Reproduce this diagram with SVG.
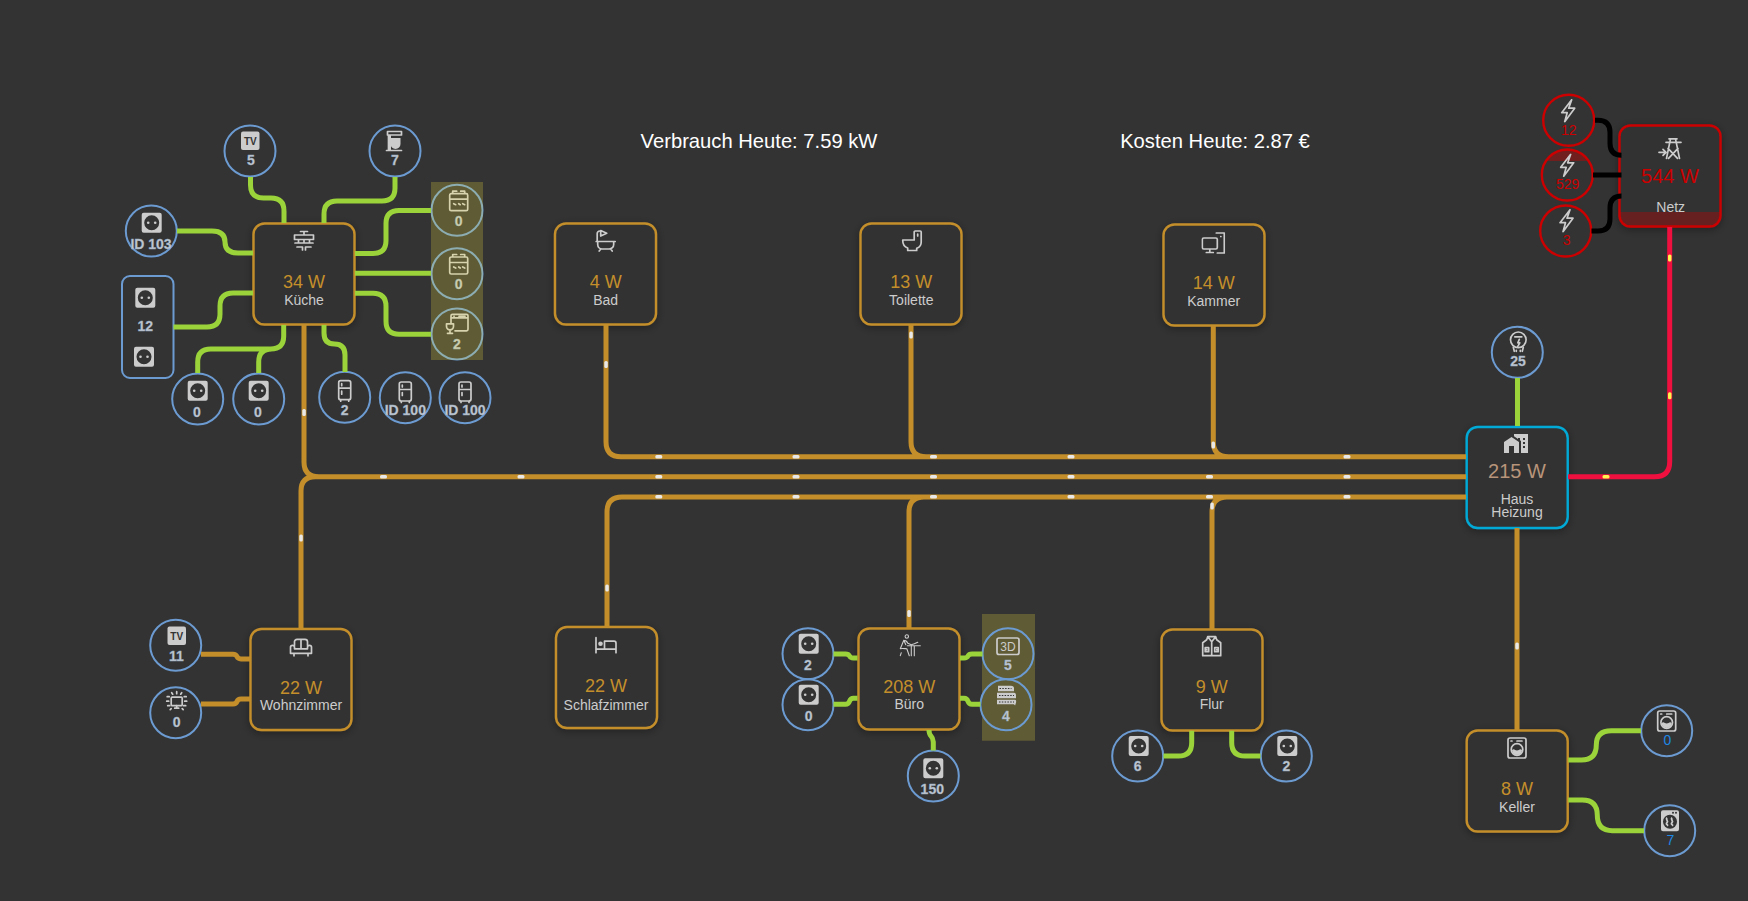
<svg xmlns="http://www.w3.org/2000/svg" width="1748" height="901" viewBox="0 0 1748 901">
<style>
text{font-family:"Liberation Sans",Arial,sans-serif;text-anchor:middle}
.box{fill:#333;stroke:#c48f2b;stroke-width:2.4;filter:url(#sh)}
.c{fill:none;stroke:#6c9bd2;stroke-width:2}
.cr{fill:none;stroke:#c00;stroke-width:2.4}
.w{font-size:18px;fill:#c48f2b}
.l{font-size:14px;fill:#ccc}
.v{font-size:14px;font-weight:bold;fill:#c2c8cf;stroke:#8fa6c0;stroke-width:.35}
.vr{font-size:14px;fill:#c00}
.vb{font-size:14px;fill:#1e88e5}
.t{font-size:20.2px;fill:#fff}
.ic{fill:#ccc}
.is{fill:none;stroke:#ccc;stroke-width:1.7;stroke-linecap:round;stroke-linejoin:round}
.g{fill:none;stroke:#9ad43a;stroke-width:5}
.o{fill:none;stroke:#c48f2b;stroke-width:5}
.k{fill:none;stroke:#000;stroke-width:5}
.r{fill:none;stroke:#f0103f;stroke-width:5}
.dw{fill:#e8e8e8}
.dy{fill:#fff44f}
.ov{fill:#ffeb3b;fill-opacity:.22}
</style>
<defs>
<filter id="sh" x="-20%" y="-20%" width="140%" height="140%"><feDropShadow dx="0" dy="2" stdDeviation="4" flood-color="#000" flood-opacity=".35"/></filter>
<symbol id="socket" viewBox="0 0 24 24"><path class="ic" fill-rule="evenodd" d="M4 2h16a2 2 0 012 2v16a2 2 0 01-2 2H4a2 2 0 01-2-2V4a2 2 0 012-2zM12 4.500a7.500 7.500 0 100 15 7.500 7.500 0 000-15z"/><circle class="ic" cx="8.500" cy="12" r="1.300"/><circle class="ic" cx="15.500" cy="12" r="1.300"/></symbol>
<symbol id="mixer" viewBox="0 0 24 24"><path class="is" d="M4.500 2.500h14v3.500h-14zM5.500 6v14.500M3.500 21.500h15"/><path class="ic" d="M7.500 9h10v6a5 5 0 01-10 0zM5 6h3v15H5z"/></symbol>
<symbol id="stove" viewBox="0 0 24 24"><path class="is" d="M4.500 5h15a1.500 1.500 0 011.500 1.500V20.500a1.500 1.500 0 01-1.500 1.500H4.500A1.500 1.500 0 013 20.500V6.500A1.500 1.500 0 014.500 5zM3 10.500h18M6 2.500h4M14 2.500h4M6 2.500v2.500M18 2.500v2.500M7 15l2 1M12 15l1.500 1M16 15l2 1"/></symbol>
<symbol id="dish" viewBox="0 0 24 24"><path class="is" d="M6 12V4.500A1.500 1.500 0 017.500 3h14A1.500 1.500 0 0123 4.500V18a1.500 1.500 0 01-1.500 1.500H10M6 6.500h17M9 5h.1M14 5h6"/><path class="is" d="M1.500 12.500h7v2.500a3.500 3.500 0 01-7 0zM5 18.500v3.500M2.500 22h5"/></symbol>
<symbol id="fridge" viewBox="0 0 24 24"><path class="is" d="M8 2h8a2 2 0 012 2v15a2 2 0 01-2 2H8a2 2 0 01-2-2V4a2 2 0 012-2zM6 9.500h12M8 21v1.500M16 21v1.500M9 5v2M9 12.500v3"/></symbol>
<symbol id="counter" viewBox="0 0 24 24"><path class="is" d="M8.500 3h7M12 3v3M2.500 6.500h19v4.500h-19zM6.500 11v3M17.500 11v3M12 11v3M3 14.500h18M5 18.500h5.500M13.500 18.500h5.500M10.500 18.500v3M13.500 18.500v3"/></symbol>
<symbol id="bath" viewBox="0 0 24 24"><path class="is" d="M2.500 12.500h19M3.500 12.500V4.500A2.500 2.500 0 016 2h1M4 12.500v3a4.500 4.500 0 004.500 4.500h7a4.500 4.500 0 004.500-4.500v-3M7 20l-1.500 2M17 20l1.500 2M7 1.500l6 2.800-6 2.700z"/></symbol>
<symbol id="toilet" viewBox="0 0 24 24"><path class="is" d="M3 11h11.500V3a1 1 0 011-1h5a1 1 0 011 1v10a6.500 6.500 0 01-4.500 6.300V21.500H8v-2.500C5 18 3 15 3 11zM18 5v2"/></symbol>
<symbol id="desktop" viewBox="0 0 24 24"><path class="is" d="M2.500 7h12A1.500 1.500 0 0116 8.500v8a1.500 1.500 0 01-1.500 1.500h-12A1.500 1.500 0 011 16.500v-8A1.500 1.500 0 012.500 7zM8.500 18v3.500M5 21.500h7M15 2h8v20h-7M19.500 5.500h.1"/></symbol>
<symbol id="sofa" viewBox="0 0 24 24"><path class="is" d="M5.500 10V6.500A2.500 2.500 0 018 4h8a2.500 2.500 0 012.500 2.500V10M12 4v9.500M5.500 13.500h13M3.500 10a2 2 0 012 2v1.500M20.500 10a2 2 0 00-2 2v1.500M3.500 10A2 2 0 001.500 12v6h21v-6a2 2 0 00-2-2M5 18v2.500M19 18v2.500"/></symbol>
<symbol id="bed" viewBox="0 0 24 24"><path class="is" d="M2 5v15M22 20V10.500A2 2 0 0020 8.500h-9.500v8M2 16.500h20"/><circle class="ic" cx="6.500" cy="11" r="2.300"/></symbol>
<symbol id="desk" viewBox="0 0 24 24"><g class="is" style="stroke-width:1.100"><circle cx="9.500" cy="2.800" r="1.700"/><path d="M6.500 6.500c2 0 3 .8 4 3l3.500 1.500 3-1 3.500-1.500M6.500 6.500L3 15c2-.5 5 0 6.500 0L12 22M4 19l-1 3M6.500 6.500l2 4.500M10 12h13M14 12v10M17 12v10"/></g></symbol>
<symbol id="vest" viewBox="0 0 24 24"><path class="is" d="M8 2h8l1 3 4 3v13H3V8l4-3zM8 2l4 5 4-5M12 7v14M5.500 13h3.500v4h-3.500zM15 13h3.500v4h-3.500zM7 15h.1M17 15h.1"/></symbol>
<symbol id="washer" viewBox="0 0 24 24"><path class="is" d="M5 2h14a2 2 0 012 2v16a2 2 0 01-2 2H5a2 2 0 01-2-2V4a2 2 0 012-2zM6 5h1M12 5h5"/><circle class="is" cx="12" cy="13.500" r="5.800"/><path class="ic" d="M7 14c2-2 3 .5 5 .5s3-2.500 5-.5a5 5 0 01-10 0z"/></symbol>
<symbol id="dryer" viewBox="0 0 24 24"><path class="ic" d="M5 1.500h14a2 2 0 012 2v17a2 2 0 01-2 2H5a2 2 0 01-2-2V3.500a2 2 0 012-2z"/><circle cx="12" cy="13" r="7" fill="#333"/><path fill="none" stroke="#ccc" stroke-width="1.800" d="M9 9c-2 2 2 3 0 5s2 2 0 3M14 9c-2 2 2 3 0 5s2 2 0 3"/><circle fill="#333" cx="18" cy="4" r="1"/><circle fill="#333" cx="15" cy="4" r="1"/></symbol>
<symbol id="city" viewBox="0 0 24 24"><path class="ic" d="M0 21V10L7.500 5L15 10V21H10V14H5V21H0M24 2V21H17V8.930L16 8.270V6H14V6.930L10 4.270V2H24M21 14H19V16H21V14M21 10H19V12H21V10M21 6H19V8H21V6Z"/></symbol>
<symbol id="tower" viewBox="0 0 24 24"><path class="is" d="M11 2.500h8M8 6h15M12.500 2.500L8.500 22M17.500 2.500L21.500 22M10 12l9.500 10M20 12L10.500 22M1 16h6.500M5 13l3 3-3 3"/></symbol>
<symbol id="bolt" viewBox="0 0 24 24"><path class="is" d="M16 1L6 14h5.500L9 23l10-13.500h-6L16 1z"/></symbol>
<symbol id="bulb" viewBox="0 0 24 24"><circle class="is" cx="12" cy="9.500" r="7.800"/><path class="is" d="M8.500 6.500h7M13 9l-1.500 3.500h2l-2 3.500M7 17l1 4M17 17l-1 4M10 20v1M14 20v1"/></symbol>
<symbol id="ambient" viewBox="0 0 24 24"><rect class="is" x="6.500" y="7.500" width="11" height="8.500" rx="1"/><path class="is" d="M10 18.500h4M12 16v2.500M12 2v2M7 3l1 1.500M17 3l-1 1.500M2.500 7h2M19.500 7h2M2 11.500h2M20 11.500h2M3 16h2M19 16h2M5.500 20l1-1M18.500 20l-1-1"/></symbol>
<symbol id="rack" viewBox="0 0 24 24"><path class="ic" d="M4 2h13c2 0 3 1 3 2.500V7.500H4zM3 9h17c1.500 0 2 1 2 2.500V14.500H3zM3 16h18c1 0 1.500 1 1 3l-1 3c0-1-1-1.500-2-1.500H3z"/><path stroke="#333" stroke-width="1.200" stroke-dasharray="1.500 1.300" d="M5.500 4.800h12M5 11.800h15M5 18.300h15"/></symbol>
</defs>
<rect width="1748" height="901" fill="#333"/>
<text class="t" x="759" y="148">Verbrauch Heute: 7.59 kW</text>
<text class="t" x="1215" y="148">Kosten Heute: 2.87 €</text>

<g id="kueche"><rect class="box" x="253.500" y="223.500" width="101" height="101" rx="11"/><use href="#counter" x="292" y="228.500" width="24" height="24"/><text class="w" x="304" y="288.300">34 W</text><text class="l" x="304" y="305">Küche</text></g>
<g id="bad"><rect class="box" x="555" y="223.500" width="101" height="101" rx="11"/><use href="#bath" x="593.700" y="229" width="24" height="24"/><text class="w" x="605.700" y="288.300">4 W</text><text class="l" x="605.700" y="305">Bad</text></g>
<g id="toilette"><rect class="box" x="860.500" y="223.500" width="101" height="101" rx="11"/><use href="#toilet" x="899.700" y="229" width="24" height="24"/><text class="w" x="911.300" y="288.300">13 W</text><text class="l" x="911.300" y="305">Toilette</text></g>
<g id="kammer"><rect class="box" x="1163.500" y="224.500" width="101" height="101" rx="11"/><use href="#desktop" x="1201.300" y="231" width="24" height="24"/><text class="w" x="1213.700" y="289.300">14 W</text><text class="l" x="1213.700" y="306">Kammer</text></g>
<g id="wohnzimmer"><rect class="box" x="250.500" y="629" width="101" height="101" rx="11"/><use href="#sofa" x="289" y="635.300" width="24" height="24"/><text class="w" x="301" y="694.300">22 W</text><text class="l" x="301" y="710">Wohnzimmer</text></g>
<g id="schlafzimmer"><rect class="box" x="556" y="627" width="101" height="101" rx="11"/><use href="#bed" x="594" y="632.700" width="24" height="24"/><text class="w" x="606" y="692">22 W</text><text class="l" x="606" y="710">Schlafzimmer</text></g>
<g id="buero"><rect class="box" x="858.500" y="628.500" width="101" height="101" rx="11"/><use href="#desk" x="897.300" y="633.700" width="24" height="24"/><text class="w" x="909.300" y="692.700">208 W</text><text class="l" x="909.300" y="709">Büro</text></g>
<g id="flur"><rect class="box" x="1161.500" y="629.500" width="101" height="101" rx="11"/><use href="#vest" x="1199.700" y="634.700" width="24" height="24"/><text class="w" x="1211.700" y="693.300">9 W</text><text class="l" x="1211.700" y="709">Flur</text></g>
<g id="keller"><rect class="box" x="1466.700" y="730.500" width="101" height="101" rx="11"/><use href="#washer" x="1505" y="736" width="24" height="24"/><text class="w" x="1517" y="795">8 W</text><text class="l" x="1517" y="812.300">Keller</text></g>
<g id="haus"><rect class="box" x="1466.700" y="427" width="101" height="101" rx="11" style="stroke:#00a9d6"/><use href="#city" x="1504" y="432" width="24" height="24"/><text class="w" x="1517" y="478.300" style="font-size:20px;fill:#b8957a">215 W</text><text class="l" x="1517" y="504">Haus</text><text class="l" x="1517" y="517">Heizung</text></g>
<g id="netz"><rect class="box" x="1619.500" y="125.500" width="101" height="101" rx="11" style="stroke:#c00"/><use href="#tower" x="1658" y="136.300" width="24" height="24"/><text class="w" x="1670" y="183.300" style="font-size:20px;fill:#c00">544 W</text><text class="l" x="1670.700" y="212.300">Netz</text><path d="M1619.500 212h101v3.500a11 11 0 01-11 11h-79a11 11 0 01-11-11z" fill="#c00" fill-opacity=".35"/></g>

<g id="n-tv"><circle class="c" cx="250" cy="151" r="25.500"/><rect class="ic" x="241" y="131.500" width="18.500" height="18.500" rx="2"/><text x="250.300" y="145" style="font-size:10px;font-weight:bold;fill:#333">TV</text><text class="v" x="251" y="165">5</text></g>
<g id="n-mixer"><circle class="c" cx="395" cy="151" r="25.500"/><use href="#mixer" x="383" y="129" width="24" height="24"/><text class="v" x="395" y="165">7</text></g>
<g id="n-id103"><circle class="c" cx="151.300" cy="231" r="25.500"/><use href="#socket" x="139.700" y="210.700" width="24" height="24"/><text class="v" x="151" y="249.300">ID 103</text></g>
<g id="n-tall"><rect class="c" x="122" y="276" width="51.500" height="102" rx="8"/><use href="#socket" x="133.300" y="285.700" width="24" height="24"/><text class="v" x="145.300" y="330.700">12</text><use href="#socket" x="132" y="344.700" width="24" height="24"/></g>
<g id="n-s1"><circle class="c" cx="197.700" cy="399" r="25.500"/><use href="#socket" x="185.700" y="378.700" width="24" height="24"/><text class="v" x="197" y="417.300">0</text></g>
<g id="n-s2"><circle class="c" cx="258.700" cy="399" r="25.500"/><use href="#socket" x="246.700" y="378.700" width="24" height="24"/><text class="v" x="258" y="417.300">0</text></g>
<g id="n-f1"><circle class="c" cx="344.700" cy="397.300" r="25.500"/><use href="#fridge" x="332.700" y="378.700" width="24" height="24"/><text class="v" x="344.700" y="415.300">2</text></g>
<g id="n-f2"><circle class="c" cx="405.300" cy="397.700" r="25.500"/><use href="#fridge" x="393.300" y="380" width="24" height="24"/><text class="v" x="405.300" y="415">ID 100</text></g>
<g id="n-f3"><circle class="c" cx="465" cy="397.700" r="25.500"/><use href="#fridge" x="453" y="380" width="24" height="24"/><text class="v" x="465" y="415">ID 100</text></g>
<g id="n-o1"><circle class="c" cx="457" cy="210.300" r="25.500"/><use href="#stove" x="446.700" y="188.700" width="24" height="24"/><text class="v" x="458.700" y="225.700">0</text></g>
<g id="n-o2"><circle class="c" cx="457" cy="273.700" r="25.500"/><use href="#stove" x="446.700" y="252" width="24" height="24"/><text class="v" x="458.700" y="289">0</text></g>
<g id="n-d"><circle class="c" cx="457" cy="334" r="25.500"/><use href="#dish" x="445" y="311.300" width="24" height="24"/><text class="v" x="457" y="348.700">2</text></g>
<rect id="kueche-overlay" class="ov" x="431" y="182" width="52" height="178"/>

<g id="n-bolt1"><circle class="cr" cx="1568.700" cy="120.300" r="25.500"/><use href="#bolt" x="1555.700" y="98.700" width="24" height="24"/><text class="vr" x="1568.700" y="135">12</text></g>
<g id="n-bolt2"><path d="M1546 161a25.500 25.500 0 0142.600 0z" fill="#c00" fill-opacity=".4"/><circle class="cr" cx="1567.300" cy="175" r="25.500"/><use href="#bolt" x="1554.700" y="153.300" width="24" height="24"/><text class="vr" x="1567.700" y="189.300">529</text></g>
<g id="n-bolt3"><circle class="cr" cx="1565.700" cy="231" r="25.500"/><use href="#bolt" x="1554" y="208.700" width="24" height="24"/><text class="vr" x="1566.700" y="245">3</text></g>
<g id="n-bulb"><circle class="c" cx="1517.300" cy="352.300" r="25.500"/><use href="#bulb" x="1506.300" y="330.300" width="24" height="24"/><text class="v" x="1518" y="366">25</text></g>
<g id="n-w"><circle class="c" cx="1666.700" cy="730.700" r="25.500"/><use href="#washer" x="1654.700" y="709" width="24" height="24"/><text class="vb" x="1667.300" y="745">0</text></g>
<g id="n-dr"><circle class="c" cx="1669.700" cy="830.700" r="25.500"/><use href="#dryer" x="1658" y="808.700" width="24" height="24"/><text class="vb" x="1670.300" y="845">7</text></g>
<g id="n-fl1"><circle class="c" cx="1137.700" cy="756" r="25.500"/><use href="#socket" x="1126.700" y="734" width="24" height="24"/><text class="v" x="1137.700" y="771">6</text></g>
<g id="n-fl2"><circle class="c" cx="1286.300" cy="756" r="25.500"/><use href="#socket" x="1275.300" y="734" width="24" height="24"/><text class="v" x="1286.300" y="771">2</text></g>

<rect id="buero-overlay" class="ov" x="982" y="614" width="53" height="126.700"/>
<g id="n-b1"><circle class="c" cx="808" cy="653.700" r="25.500"/><use href="#socket" x="796.700" y="631.700" width="24" height="24"/><text class="v" x="808" y="670">2</text></g>
<g id="n-b2"><circle class="c" cx="808" cy="704.700" r="25.500"/><use href="#socket" x="796.700" y="682.700" width="24" height="24"/><text class="v" x="808.700" y="721">0</text></g>
<g id="n-b3"><circle class="c" cx="1008" cy="653.700" r="25.500"/><rect class="is" x="997" y="638" width="22" height="16.500" rx="2"/><text x="1008" y="650.500" style="font-size:12px;fill:#ccc">3D</text><text class="v" x="1008" y="670">5</text></g>
<g id="n-b4"><circle class="c" cx="1006" cy="704.700" r="25.500"/><use href="#rack" x="994" y="683.700" width="24" height="24"/><text class="v" x="1006" y="721">4</text></g>
<g id="n-b5"><circle class="c" cx="933.300" cy="776" r="25.500"/><use href="#socket" x="921.300" y="756.300" width="24" height="24"/><text class="v" x="932.300" y="794.300">150</text></g>
<g id="n-wtv"><circle class="c" cx="175.700" cy="645.300" r="25.500"/><rect class="ic" x="167.500" y="626.500" width="18.500" height="18.500" rx="2"/><text x="176.700" y="640" style="font-size:10px;font-weight:bold;fill:#333">TV</text><text class="v" x="176.300" y="660.700">11</text></g>
<g id="n-wamb"><circle class="c" cx="175.700" cy="712.700" r="25.500"/><use href="#ambient" x="164.700" y="689.700" width="24" height="24"/><text class="v" x="176.700" y="726.700">0</text></g>

<g id="connectors">
<path class="o" d="M606 325V441.700q0 15 15 15H1466M911 325V441.700q0 15 15 15M1213.300 326V441.700q0 15 15 15"/>
<path class="o" d="M304 325V462q0 14.700 14.700 14.700H1466M301 628.700V491q0-14.300 14.300-14.300"/>
<path class="o" d="M607 626V512q0-15 15-15H1466M909 628V512q0-15 15-15M1212 629V512q0-15 15-15"/>
<path class="o" d="M1517 528V730"/>
<path class="r" d="M1568 476.700H1654.700q15 0 15-15V227"/>
<path class="g" d="M1517.500 378V426"/>
<path class="g" d="M250.500 177v8q0 13 13 13h7.500q13 0 13 13v12M395 177v11q0 13-13 13h-45q-13 0-13 13v9M177 231h35q13 0 13 11t13 11h15M431 210.500h-32q-13 0-13 13v17q0 13-13 13h-18M355 273.300h76M355 293.300h18q13 0 13 13v15q0 13 13 13h32M173.500 327h33.500q13 0 13-13v-8q0-13 13-13h20M197.700 373v-11q0-13 13-13h60q13 0 13-13v-11M258.700 373v-11q0-13 13-13M324 325v8q0 11 10.500 11t10.500 11v17"/>
<path class="k" d="M1595 120.300h3q12 0 12 12v11q0 12 11.500 12M1593 175h28.500M1591.500 231h6.500q12 0 12-12v-11q0-12 11.500-12"/>
<path class="g" d="M833.500 654h12q3 0 4 2t4 2h4M833.500 704.300h12q3 0 4-3t4-3h4M960 658h4q3 0 4-2t4-2h10.500M960 698.300h4q3 0 4 3t4 3h8.500M929 730q0 4 2 6t2.300 6v8.500"/>
<path class="o" d="M201 654.300h32q3 0 4 2.300t4 2.400h9M201 704h32q3 0 4-2.500t4-2.500h9"/>
<path class="g" d="M1191.700 730.700v12q0 13.300-13.300 13.300H1163.500M1231.700 730.700v12q0 13.300 13.300 13.300h15.500"/>
<path class="g" d="M1568.300 760h13q15 0 15-15q0-14.300 15-14.300H1641M1568.300 800h14q15 0 15 15.300t15 15.400H1644"/>
</g>
<g id="dots">
<g class="dw">
<rect x="380" y="475" width="7" height="3.500" rx="1.500"/><rect x="517.500" y="475" width="7" height="3.500" rx="1.500"/><rect x="655.300" y="475" width="7" height="3.500" rx="1.500"/><rect x="792.500" y="475" width="7" height="3.500" rx="1.500"/><rect x="930" y="475" width="7" height="3.500" rx="1.500"/><rect x="1067.500" y="475" width="7" height="3.500" rx="1.500"/><rect x="1206" y="475" width="7" height="3.500" rx="1.500"/><rect x="1343.500" y="475" width="7" height="3.500" rx="1.500"/>
<rect x="655.300" y="455" width="7" height="3.500" rx="1.500"/><rect x="792.500" y="455" width="7" height="3.500" rx="1.500"/><rect x="930" y="455" width="7" height="3.500" rx="1.500"/><rect x="1067.500" y="455" width="7" height="3.500" rx="1.500"/><rect x="1343.500" y="455" width="7" height="3.500" rx="1.500"/>
<rect x="655.300" y="495" width="7" height="3.500" rx="1.500"/><rect x="792.500" y="495" width="7" height="3.500" rx="1.500"/><rect x="930" y="495" width="7" height="3.500" rx="1.500"/><rect x="1067.500" y="495" width="7" height="3.500" rx="1.500"/><rect x="1206" y="495" width="7" height="3.500" rx="1.500"/><rect x="1343.500" y="495" width="7" height="3.500" rx="1.500"/>
<rect x="302.300" y="409" width="3.500" height="7" rx="1.500"/><rect x="299.300" y="534.500" width="3.500" height="7" rx="1.500"/><rect x="604.300" y="361" width="3.500" height="7" rx="1.500"/><rect x="909.300" y="331.500" width="3.500" height="7" rx="1.500"/><rect x="1211.500" y="441.500" width="3.500" height="7" rx="1.500"/><rect x="605.300" y="584.500" width="3.500" height="7" rx="1.500"/><rect x="907.300" y="610" width="3.500" height="7" rx="1.500"/><rect x="1210.300" y="502.500" width="3.500" height="7" rx="1.500"/><rect x="1515.300" y="642.500" width="3.500" height="7" rx="1.500"/>
</g>
<g class="dy"><rect x="1668" y="254.500" width="3.500" height="7" rx="1.500"/><rect x="1668" y="392.200" width="3.500" height="7" rx="1.500"/><rect x="1602.500" y="475" width="7" height="3.500" rx="1.500"/></g>
</g>
</svg>
